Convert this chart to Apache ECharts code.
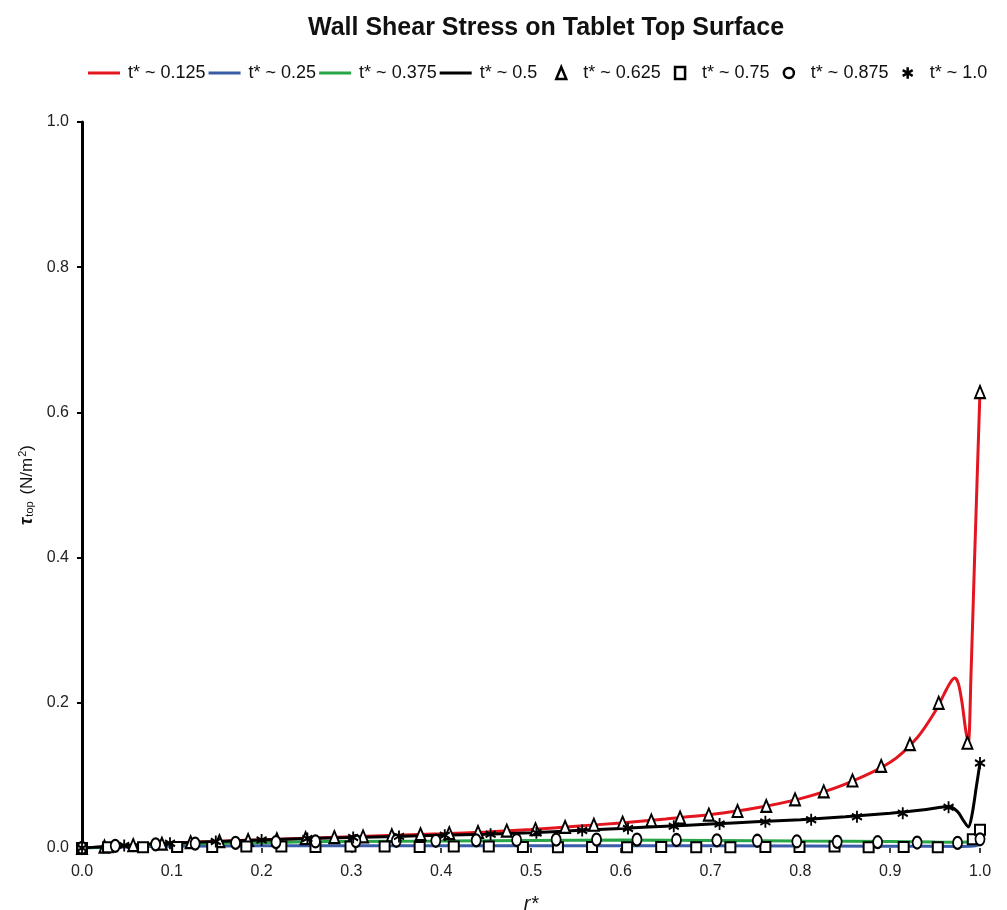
<!DOCTYPE html>
<html>
<head>
<meta charset="utf-8">
<script src="https://cdn.jsdelivr.net/npm/echarts@6/dist/echarts.min.js"></script>
<style>html,body{margin:0;padding:0;background:#fff}#c{width:1007px;height:910px}</style>
</head>
<body>
<div id="c"></div>
<script>
// ---- data ----
var xTicks = [0.0, 0.1, 0.2, 0.3, 0.4, 0.5, 0.6, 0.7, 0.8, 0.9, 1.0];
var yTicks = [0.0, 0.2, 0.4, 0.6, 0.8, 1.0];

// t* ~ 0.125 (red line)
var rRed = [0, 0.02, 0.05, 0.1, 0.15, 0.2, 0.25, 0.3, 0.35, 0.4, 0.45, 0.5, 0.55, 0.6, 0.65, 0.7, 0.75, 0.8, 0.85, 0.9, 0.93, 0.95, 0.96, 0.967, 0.972, 0.976, 0.98, 0.984, 0.987, 0.990, 0.994, 1.0];
var yRed = [0, 0.0015, 0.0035, 0.0065, 0.009, 0.0115, 0.0135, 0.0155, 0.0175, 0.0195, 0.022, 0.0255, 0.03, 0.0345, 0.04, 0.046, 0.055, 0.068, 0.088, 0.118, 0.152, 0.188, 0.212, 0.228, 0.234, 0.226, 0.2, 0.163, 0.145, 0.24, 0.40, 0.63];
// t* ~ 0.25 (blue line)
var rBlue = [0, 0.02, 0.05, 0.1, 0.2, 0.3, 0.5, 0.7, 0.9, 0.98, 0.995, 1.0];
var yBlue = [0, 0.0008, 0.0015, 0.0025, 0.003, 0.0032, 0.0032, 0.003, 0.0025, 0.0022, 0.003, 0.006];
// t* ~ 0.375 (green line)
var rGreen = [0, 0.02, 0.05, 0.1, 0.15, 0.2, 0.25, 0.3, 0.4, 0.5, 0.6, 0.7, 0.8, 0.9, 0.95, 0.98, 0.99, 1.0];
var yGreen = [0, 0.001, 0.0025, 0.005, 0.0065, 0.0075, 0.0085, 0.009, 0.0095, 0.0105, 0.011, 0.0105, 0.0095, 0.0088, 0.0082, 0.008, 0.0085, 0.011];
// t* ~ 0.5 (black line)
var rBlack = [0, 0.02, 0.05, 0.1, 0.15, 0.2, 0.25, 0.3, 0.35, 0.4, 0.45, 0.5, 0.55, 0.6, 0.65, 0.7, 0.75, 0.8, 0.85, 0.9, 0.94, 0.965, 0.975, 0.982, 0.987, 0.991, 0.996, 1.0];
var yBlack = [0, 0.0015, 0.0035, 0.0065, 0.009, 0.011, 0.013, 0.0145, 0.016, 0.0175, 0.019, 0.021, 0.024, 0.027, 0.03, 0.033, 0.036, 0.039, 0.043, 0.048, 0.053, 0.057, 0.05, 0.037, 0.029, 0.045, 0.085, 0.117];

// t* ~ 0.625 (triangles)
var rTri = [0, 0.025, 0.057, 0.089, 0.121, 0.153, 0.185, 0.217, 0.249, 0.281, 0.313, 0.345, 0.377, 0.409, 0.441, 0.473, 0.505, 0.538, 0.570, 0.602, 0.634, 0.666, 0.698, 0.730, 0.762, 0.794, 0.826, 0.858, 0.890, 0.922, 0.954, 0.986, 1.0];
var yTri = [0, 0.002, 0.004, 0.006, 0.008, 0.0095, 0.011, 0.012, 0.0135, 0.015, 0.016, 0.0175, 0.019, 0.0205, 0.022, 0.024, 0.026, 0.029, 0.032, 0.035, 0.038, 0.042, 0.046, 0.051, 0.058, 0.067, 0.078, 0.093, 0.113, 0.143, 0.200, 0.145, 0.628];
// t* ~ 0.75 (squares)
var rSq = [0, 0.029, 0.068, 0.106, 0.145, 0.183, 0.222, 0.260, 0.299, 0.337, 0.376, 0.414, 0.453, 0.491, 0.530, 0.568, 0.607, 0.645, 0.684, 0.722, 0.761, 0.799, 0.838, 0.876, 0.915, 0.953, 0.992, 1.0];
var ySq = [0, 0.001, 0.001, 0.0015, 0.0015, 0.002, 0.002, 0.0015, 0.002, 0.002, 0.0015, 0.002, 0.002, 0.0015, 0.001, 0.0015, 0.001, 0.0015, 0.001, 0.001, 0.0015, 0.0015, 0.002, 0.001, 0.0015, 0.001, 0.012, 0.025];
// t* ~ 0.875 (circles)
var rCir = [0, 0.037, 0.082, 0.126, 0.171, 0.216, 0.260, 0.305, 0.350, 0.394, 0.439, 0.484, 0.528, 0.573, 0.618, 0.662, 0.707, 0.752, 0.796, 0.841, 0.886, 0.930, 0.975, 1.0];
var yCir = [0, 0.003, 0.005, 0.006, 0.007, 0.008, 0.009, 0.0095, 0.010, 0.010, 0.0105, 0.011, 0.0115, 0.0115, 0.0115, 0.011, 0.0105, 0.0100, 0.009, 0.0085, 0.008, 0.0075, 0.007, 0.012];
// t* ~ 1.0 (asterisks)
var rAst = [0, 0.047, 0.098, 0.149, 0.200, 0.251, 0.302, 0.353, 0.404, 0.455, 0.506, 0.557, 0.608, 0.659, 0.710, 0.761, 0.812, 0.863, 0.914, 0.965, 1.0];
var yAst = [0, 0.0035, 0.0065, 0.009, 0.011, 0.013, 0.0145, 0.016, 0.0175, 0.019, 0.021, 0.024, 0.027, 0.030, 0.033, 0.036, 0.039, 0.043, 0.048, 0.056, 0.117];

var lineNames = ['t* ~ 0.125', 't* ~ 0.25', 't* ~ 0.375', 't* ~ 0.5'];
var markNames = ['t* ~ 0.625', 't* ~ 0.75', 't* ~ 0.875', 't* ~ 1.0'];

// ---- build ----
function pairs(xs, ys) { return xs.map(function (x, i) { return [x, ys[i]]; }); }
var FONT = 'Liberation Sans, Arial, Helvetica, sans-serif';
var ASTER = 'path://M10,0L10,20M1.34,5L18.66,15M1.34,15L18.66,5';

function lineSeries(name, xs, ys, color) {
  return {
    name: name, type: 'line', data: pairs(xs, ys), symbol: 'none', showSymbol: false,
    smooth: 0.3, z: 2,
    lineStyle: { color: color, width: 3 }, itemStyle: { color: color }
  };
}
function markSeries(name, xs, ys, symbol, size) {
  return {
    name: name, type: 'scatter', data: pairs(xs, ys), symbol: symbol, symbolSize: size, z: 4,
    itemStyle: { color: '#fff', borderColor: '#000', borderWidth: 2, opacity: 1 }
  };
}

var chart = echarts.init(document.getElementById('c'), null, { renderer: 'canvas' });
chart.setOption({
  animation: false,
  backgroundColor: '#fff',
  textStyle: { fontFamily: FONT },
  title: {
    text: 'Wall Shear Stress on Tablet Top Surface',
    left: 303, top: 11,
    textStyle: { fontFamily: FONT, fontSize: 25, fontWeight: 'bold', color: '#111' }
  },
  legend: [
    {
      data: lineNames, left: 83, top: 59, orient: 'horizontal', icon: 'rect',
      itemWidth: 32, itemHeight: 3, itemGap: 3,
      textStyle: { fontFamily: FONT, fontSize: 18, color: '#111', padding: [0, 0, 0, 3] }
    },
    {
      data: markNames, left: 550, top: 59, orient: 'horizontal',
      itemWidth: 10, itemHeight: 12, itemGap: 13,
      itemStyle: { borderWidth: 2.5 },
      textStyle: { fontFamily: FONT, fontSize: 18, color: '#111', padding: [0, 0, 0, 12] }
    }
  ],
  grid: { left: 82, right: 27, top: 122, bottom: 62, containLabel: false, outerBoundsMode: 'none' },
  xAxis: {
    type: 'value', min: xTicks[0], max: xTicks[xTicks.length - 1], interval: 0.1,
    name: 'r*', nameLocation: 'middle', nameGap: 46,
    nameTextStyle: { fontFamily: FONT, fontSize: 20, fontStyle: 'italic', color: '#111' },
    axisLine: { show: false },
    axisTick: { show: true, length: 5, lineStyle: { color: '#000', width: 1.5 } },
    axisLabel: { fontFamily: FONT, fontSize: 16, color: '#222', margin: 16,
      formatter: function (v) { return v.toFixed(1); } },
    splitLine: { show: false }
  },
  yAxis: {
    type: 'value', min: yTicks[0], max: yTicks[yTicks.length - 1], interval: 0.2,
    name: '{tau|τ}{sub|top} (N/m{sup|2})', nameLocation: 'middle', nameGap: 37, nameRotate: 90,
    nameTextStyle: {
      fontFamily: FONT, fontSize: 17, color: '#111',
      rich: {
        tau: { fontFamily: FONT, fontSize: 18, fontWeight: 'bold', fontStyle: 'italic', color: '#111' },
        sub: { fontFamily: FONT, fontSize: 11, color: '#111', verticalAlign: 'bottom', padding: [6, 2, 0, 1] },
        sup: { fontFamily: FONT, fontSize: 11, color: '#111', verticalAlign: 'top', padding: [0, 0, 6, 1] }
      }
    },
    axisLine: { show: true, lineStyle: { color: '#000', width: 3 } },
    axisTick: { show: true, inside: false, length: 5, lineStyle: { color: '#000', width: 2 } },
    axisLabel: { fontFamily: FONT, fontSize: 16, color: '#222', margin: 13,
      formatter: function (v) { return v.toFixed(1); } },
    splitLine: { show: false }
  },
  series: [
    lineSeries(lineNames[0], rRed, yRed, '#e3151e'),
    lineSeries(lineNames[1], rBlue, yBlue, '#3a5ca8'),
    lineSeries(lineNames[2], rGreen, yGreen, '#27a547'),
    lineSeries(lineNames[3], rBlack, yBlack, '#000000'),
    markSeries(markNames[0], rTri, yTri, 'triangle', [10, 12]),
    markSeries(markNames[1], rSq, ySq, 'rect', [10, 10]),
    markSeries(markNames[2], rCir, yCir, 'circle', [9, 12]),
    markSeries(markNames[3], rAst, yAst, ASTER, [10, 12])
  ]
});
</script>
</body>
</html>
